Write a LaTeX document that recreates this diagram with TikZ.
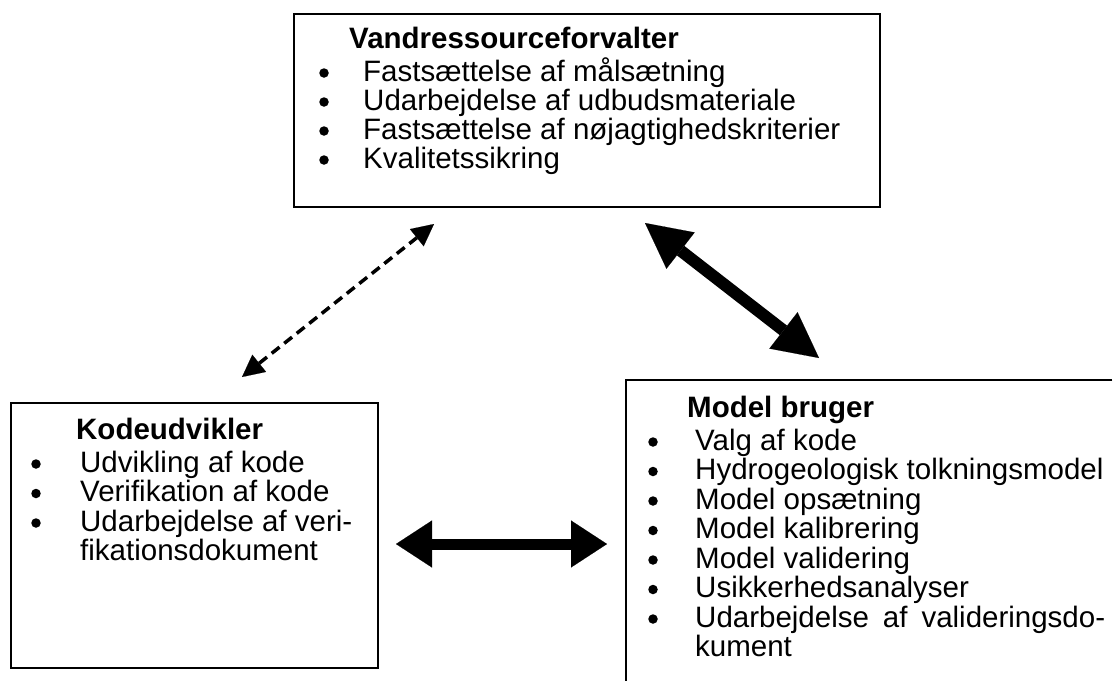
\documentclass[tikz,border=0pt]{standalone}
\usepackage{fontspec}
\setmainfont{Liberation Sans}
\usetikzlibrary{arrows.meta}
\tikzset{
  box/.style={draw, line width=2pt, inner sep=0pt, anchor=north west},
  item/.style={inner sep=0pt, anchor=base west, font=\fontsize{29.5}{30}\selectfont},
  ttl/.style={inner sep=0pt, anchor=base west, font=\fontsize{29.5}{30}\selectfont\bfseries},
  dot/.style={circle, fill=black, inner sep=0pt, minimum size=9.5pt},
  dasharrow/.style={line width=3.5pt, dash pattern=on 10pt off 6pt,
    {Triangle[length=22pt,width=22pt,line width=0.1pt]}-{Triangle[length=22pt,width=22pt,line width=0.1pt]}},
  bigarrow/.style={line width=12pt,
    {Triangle[length=45pt,width=46pt,line width=0.1pt]}-{Triangle[length=45pt,width=46pt,line width=0.1pt]}},
  hzarrow/.style={line width=11pt,
    {Triangle[length=36pt,width=47pt,line width=0.1pt]}-{Triangle[length=36pt,width=47pt,line width=0.1pt]}}
}
\begin{document}
\begin{tikzpicture}[x=1pt,y=-1pt]
\useasboundingbox[fill=white] (0,0) rectangle (1116,681);

% Vandressourceforvalter box
\node[box, minimum width=586pt, minimum height=193pt] (vf) at (293,13) {};
\node[ttl] (vft) at (349,48) {Vandressourceforvalter};
\node[dot] (vfb1) at (324,73) {};
\node[dot] (vfb2) at (324,102) {};
\node[dot] (vfb3) at (324,131) {};
\node[dot] (vfb4) at (324,160) {};
\node[item] (vfi1) at (363,81) {Fastsættelse af målsætning};
\node[item] (vfi2) at (363,110) {Udarbejdelse af udbudsmateriale};
\node[item] (vfi3) at (363,139) {Fastsættelse af nøjagtighedskriterier};
\node[item] (vfi4) at (363,168) {Kvalitetssikring};

% Kodeudvikler box
\node[box, minimum width=367pt, minimum height=265pt] (kd) at (10,402) {};
\node[ttl] (kdt) at (76,439) {Kodeudvikler};
\node[dot] (kdb1) at (36,464) {};
\node[dot] (kdb2) at (36,493.5) {};
\node[dot] (kdb3) at (36,523) {};
\node[item] (kdi1) at (80,472) {Udvikling af kode};
\node[item] (kdi2) at (80,501.5) {Verifikation af kode};
\node[item] (kdi3) at (80,531) {Udarbejdelse af veri-};
\node[item] (kdi4) at (80,560.5) {fikationsdokument};

% Model bruger box (open at right and bottom)
\node[inner sep=0pt, anchor=north west, minimum width=486pt, minimum height=301pt] (mb) at (626,380) {};
\draw[line width=2pt] (mb.north east) -- (mb.north west) -- (mb.south west);
\node[ttl] (mbt) at (687,417) {Model bruger};
\node[dot] (mbb1) at (653,442) {};
\node[dot] (mbb2) at (653,471.5) {};
\node[dot] (mbb3) at (653,501) {};
\node[dot] (mbb4) at (653,530.5) {};
\node[dot] (mbb5) at (653,560) {};
\node[dot] (mbb6) at (653,589.5) {};
\node[dot] (mbb7) at (653,619) {};
\node[item] (mbi1) at (695,450) {Valg af kode};
\node[item] (mbi2) at (695,479.5) {Hydrogeologisk tolkningsmodel};
\node[item] (mbi3) at (695,509) {Model opsætning};
\node[item] (mbi4) at (695,538.5) {Model kalibrering};
\node[item] (mbi5) at (695,568) {Model validering};
\node[item] (mbi6) at (695,597.5) {Usikkerhedsanalyser};
\node[item] (mbi7) at (695,627) {\makebox[410pt][s]{Udarbejdelse af valideringsdo-}};
\node[item] (mbi8) at (695,656.5) {kument};

% connectors
\coordinate (dA) at (242,377);
\coordinate (dB) at (434,224);
\draw[dasharrow] (dA) -- (dB);
\coordinate (tA) at (645,223);
\coordinate (tB) at (819,358);
\draw[bigarrow] (tA) -- (tB);
\coordinate (hA) at (396,544);
\coordinate (hB) at (607,544);
\draw[hzarrow] (hA) -- (hB);
\end{tikzpicture}
\end{document}
